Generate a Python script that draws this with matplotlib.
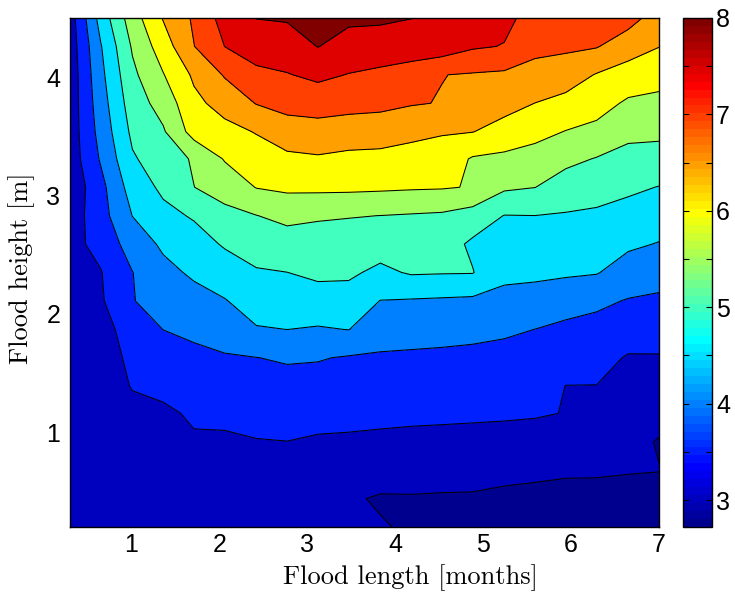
import numpy as np
import matplotlib
matplotlib.use("Agg")
import matplotlib.pyplot as plt
from matplotlib.colors import Normalize, ListedColormap
from matplotlib.cm import ScalarMappable

# grid: flood length [months] (columns) and flood height [m] (rows)
flood_length = [0.30, 0.65, 1.01, 1.36, 1.71, 2.06, 2.42, 2.77, 3.12, 3.47,
                3.83, 4.18, 4.53, 4.88, 5.24, 5.59, 5.94, 6.29, 6.65, 7.00]
flood_height = [0.20, 0.44, 0.68, 0.92, 1.16, 1.39, 1.63, 1.87, 2.11, 2.35,
                2.59, 2.83, 3.07, 3.31, 3.54, 3.78, 4.02, 4.26, 4.50]

# values, one row per flood height (bottom to top)
row_020 = [3.05, 3.10, 3.15, 3.15, 3.20, 3.20, 3.22, 3.24, 3.22, 3.10, 3.03, 2.95, 2.93, 2.90, 2.88, 2.85, 2.83, 2.83, 2.80, 2.73]
row_044 = [3.05, 3.10, 3.18, 3.18, 3.27, 3.25, 3.28, 3.30, 3.28, 3.05, 2.96, 2.968, 2.955, 2.95, 2.90, 2.87, 2.85, 2.89, 2.90, 2.84]
row_068 = [3.06, 3.12, 3.22, 3.22, 3.35, 3.33, 3.36, 3.38, 3.35, 3.30, 3.201, 3.182, 3.172, 3.161, 3.126, 3.098, 3.06, 3.04, 3.017, 3.01]
row_092 = [3.07, 3.15, 3.30, 3.30, 3.45, 3.43, 3.48, 3.496, 3.45, 3.44, 3.415, 3.395, 3.384, 3.372, 3.352, 3.326, 3.275, 3.188, 3.135, 2.97]
row_116 = [3.08, 3.20, 3.40, 3.42, 3.56, 3.605, 3.654, 3.67, 3.638, 3.618, 3.604, 3.588, 3.577, 3.565, 3.555, 3.537, 3.488, 3.337, 3.253, 3.151]
row_139 = [3.10, 3.30, 3.52, 3.614, 3.728, 3.783, 3.824, 3.844, 3.826, 3.79, 3.775, 3.759, 3.747, 3.731, 3.715, 3.691, 3.494, 3.492, 3.371, 3.313]
row_163 = [3.10, 3.15, 3.66, 3.809, 3.896, 3.96, 3.994, 4.048, 4.03, 3.963, 3.947, 3.931, 3.916, 3.898, 3.874, 3.845, 3.693, 3.668, 3.46, 3.47]
row_187 = [3.15, 3.25, 3.80, 4.004, 4.092, 4.208, 4.466, 4.503, 4.46, 4.51, 4.201, 4.173, 4.147, 4.113, 4.063, 3.998, 3.896, 3.852, 3.75, 3.694]
row_211 = [3.25, 3.44, 3.98, 4.185, 4.335, 4.474, 4.719, 4.749, 4.807, 4.805, 4.49, 4.461, 4.435, 4.406, 4.366, 4.32, 4.207, 4.093, 3.972, 3.921]
row_235 = [3.30, 3.477, 3.99, 4.367, 4.573, 4.759, 4.955, 4.997, 5.091, 5.077, 4.895, 5.046, 5.028, 5.02, 4.607, 4.59, 4.563, 4.527, 4.281, 4.189]
row_259 = [3.35, 3.646, 4.233, 4.578, 4.798, 5.049, 5.22, 5.279, 5.304, 5.292, 5.212, 5.254, 5.228, 4.916, 4.797, 4.794, 4.763, 4.726, 4.578, 4.478]
row_283 = [3.23, 3.807, 4.508, 4.869, 5.047, 5.366, 5.491, 5.624, 5.549, 5.521, 5.497, 5.463, 5.429, 5.282, 4.988, 4.998, 4.963, 4.925, 4.831, 4.733]
row_307 = [3.14, 3.85, 4.726, 5.096, 5.495, 5.697, 6.017, 6.096, 6.109, 6.103, 6.08, 6.053, 6.036, 5.974, 5.577, 5.505, 5.274, 5.184, 5.085, 4.986]
row_331 = [3.22, 4.05, 4.943, 5.27, 5.55, 6.035, 6.264, 6.392, 6.445, 6.381, 6.361, 6.314, 6.284, 5.954, 5.889, 5.814, 5.62, 5.476, 5.343, 5.304]
row_354 = [3.22, 4.175, 5.106, 5.446, 6.20, 6.35, 6.527, 6.778, 6.816, 6.76, 6.735, 6.623, 6.538, 6.512, 6.324, 6.142, 5.985, 5.874, 5.621, 5.607]
row_378 = [3.21, 4.273, 5.25, 5.694, 6.38, 6.682, 7.02, 7.157, 7.203, 7.155, 7.121, 7.036, 6.98, 6.736, 6.665, 6.496, 6.347, 6.192, 5.927, 5.877]
row_402 = [3.19, 4.37, 5.393, 5.976, 6.58, 7.041, 7.395, 7.475, 7.609, 7.482, 7.403, 7.347, 7.01, 6.96, 6.918, 6.846, 6.752, 6.47, 6.293, 6.176]
row_426 = [3.22, 4.468, 5.555, 6.255, 6.99, 7.504, 7.713, 7.787, 8.01, 7.831, 7.761, 7.674, 7.78, 7.56, 7.48, 7.115, 7.08, 7.03, 6.719, 6.51]
row_450 = [3.25, 4.70, 5.77, 6.53, 7.07, 7.70, 8.01, 8.04, 8.05, 8.08, 8.08, 8.01, 7.85, 7.70, 7.62, 7.32, 7.25, 7.25, 7.19, 6.77]

contour_levels = [3.0, 3.5, 4.0, 4.5, 5.0, 5.5, 6.0, 6.5, 7.0, 7.5, 8.0]
cbar_ticks = [3.0, 3.5, 4.0, 4.5, 5.0, 5.5, 6.0, 6.5, 7.0, 7.5, 8.0]
cbar_labels = ["3", "", "4", "", "5", "", "6", "", "7", "", "8"]
x_ticks = [1, 2, 3, 4, 5, 6, 7]
y_ticks = [1, 2, 3, 4]
c_min, c_max = 2.72, 8.0


def matlab_jet(m=64):
    """MATLAB's classic jet colormap with m entries."""
    n = int(np.ceil(m / 4))
    u = np.concatenate([np.arange(1, n + 1) / n, np.ones(n - 1),
                        np.arange(n, 0, -1) / n])
    g = int(np.ceil(n / 2)) - (1 if m % 4 == 1 else 0) + np.arange(1, len(u) + 1)
    r = g + n
    b = g - n
    J = np.zeros((m, 3))
    ok = r <= m
    J[r[ok] - 1, 0] = u[ok]
    ok = (g >= 1) & (g <= m)
    J[g[ok] - 1, 1] = u[ok]
    ok = b >= 1
    J[b[ok] - 1, 2] = u[ok]
    return J


jet64 = matlab_jet(64)
cmap = ListedColormap(jet64)


def matlab_color(v):
    idx = int(np.floor((v - c_min) / (c_max - c_min) * 64))
    idx = min(max(idx, 0), 63)
    return tuple(jet64[idx])


Z = np.array([row_020, row_044, row_068, row_092, row_116, row_139, row_163,
              row_187, row_211, row_235, row_259, row_283, row_307, row_331,
              row_354, row_378, row_402, row_426, row_450])
X, Y = np.meshgrid(flood_length, flood_height)

norm = Normalize(vmin=c_min, vmax=c_max)
fill_levels = [2.0] + contour_levels + [9.0]
band_colors = [matlab_color(lv) for lv in fill_levels[:-1]]

W, H = 735, 597
fig = plt.figure(figsize=(W / 100, H / 100), dpi=100)
ax = fig.add_axes([70 / W, 1 - 527 / H, 589 / W, 509 / H])
cax = fig.add_axes([683 / W, 1 - 527 / H, 29 / W, 509 / H])

ax.contourf(X, Y, Z, levels=fill_levels, colors=band_colors)
ax.contour(X, Y, Z, levels=contour_levels, colors="k", linewidths=0.75)
ax.set_xlim(flood_length[0], flood_length[-1])
ax.set_ylim(flood_height[0], flood_height[-1])
ax.set_xticks(x_ticks)
ax.set_yticks(y_ticks)
tick_font = {"family": "Liberation Sans", "size": 18}
ax.set_xticklabels([str(t) for t in x_ticks], fontdict=tick_font)
ax.set_yticklabels([str(t) for t in y_ticks], fontdict=tick_font)
ax.tick_params(axis="x", length=0, pad=4)
ax.tick_params(axis="y", length=0, pad=7)
for s in ax.spines.values():
    s.set_linewidth(1.0)

sm = ScalarMappable(norm=norm, cmap=cmap)
cb = fig.colorbar(sm, cax=cax)
cb.outline.set_linewidth(1.0)
cax.set_yticks(cbar_ticks)
cax.set_yticklabels(cbar_labels, fontdict=tick_font)
cax.tick_params(axis="y", direction="in", left=True, right=True, length=4,
                width=0.8, labelleft=False, labelright=True, pad=3)
cax.minorticks_off()

fig.text(410 / W, 1 - 578 / H, "Flood length [months]", fontfamily="cmr10",
         fontsize=19, ha="center", va="center")
fig.text(22 / W, 1 - 268 / H, "Flood height [m]", fontfamily="cmr10",
         fontsize=19, ha="center", va="center", rotation=90)

fig.savefig("out.png", dpi=100)
